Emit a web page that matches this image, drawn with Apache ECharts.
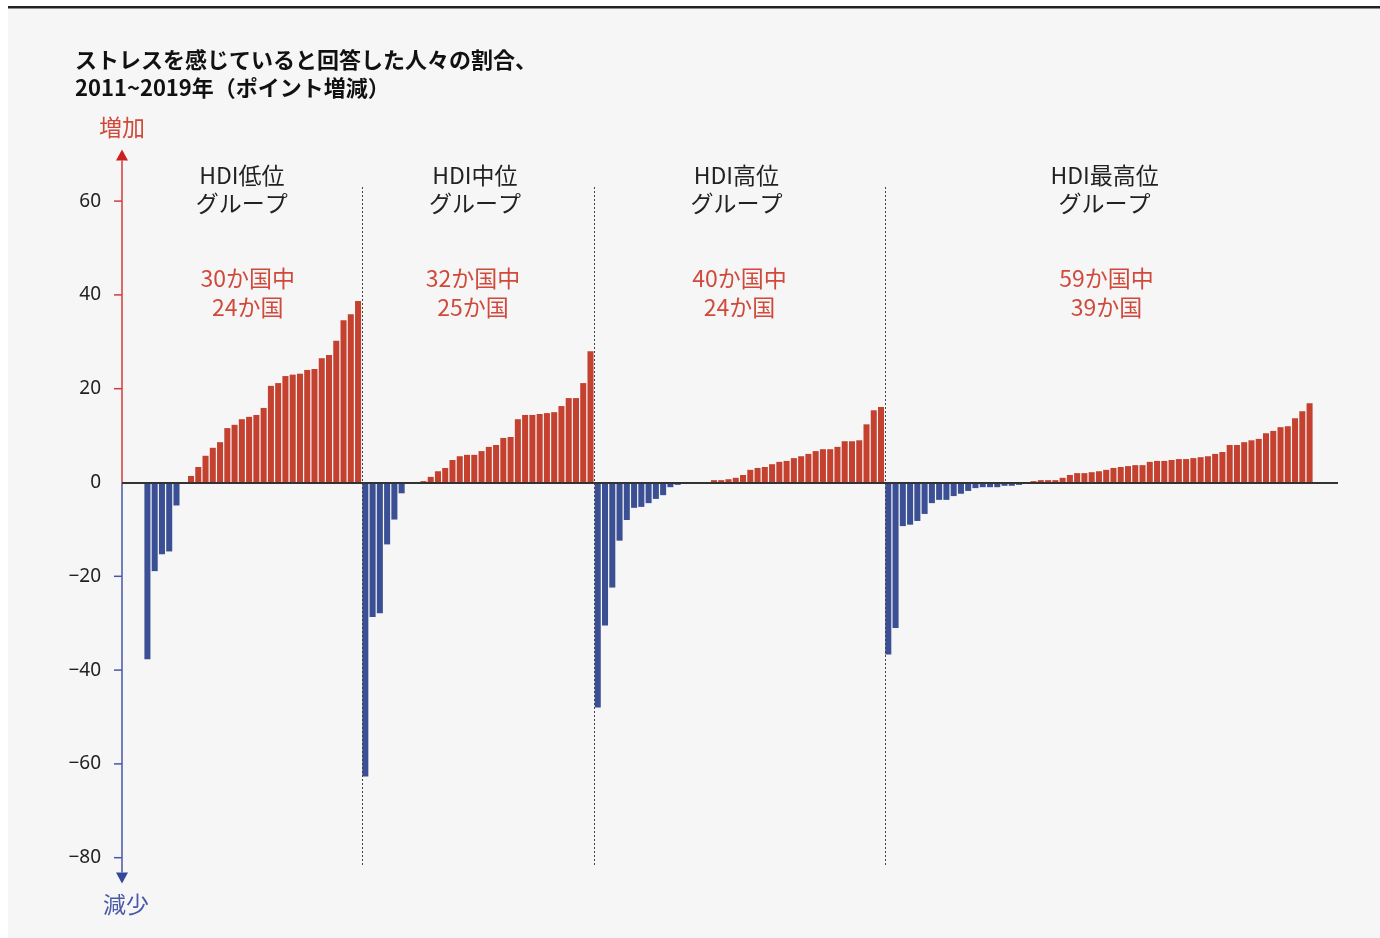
<!DOCTYPE html>
<html>
<head>
<meta charset="utf-8">
<script src="https://cdn.jsdelivr.net/npm/echarts@6/dist/echarts.min.js"></script>
<style>
html,body{margin:0;padding:0;background:#ffffff;}
#chart{width:1380px;height:938px;}
</style>
</head>
<body>
<div id="chart"></div>
<script>
// ---- data ----
const titleLines = ['ストレスを感じていると回答した人々の割合、', '2011~2019年（ポイント増減）'];
const upLabel = '増加';
const downLabel = '減少';
const groupNames = ['HDI低位', 'HDI中位', 'HDI高位', 'HDI最高位'];
const groupSub = 'グループ';
const groupTotals = [30, 32, 40, 59];
const groupIncreased = [24, 25, 24, 39];
const yTicks = [-80, -60, -40, -20, 0, 20, 40, 60];

const lowHDI = [-37.7, -18.9, -15.3, -14.7, -4.9, -0.1, 1.4, 3.3, 5.7, 7.4, 8.6, 11.6, 12.3, 13.5, 14.0, 14.4, 15.9, 20.6, 21.2, 22.7, 23.0, 23.2, 24.0, 24.2, 26.5, 27.2, 30.2, 34.6, 35.9, 38.7];
const mediumHDI = [-62.7, -28.7, -27.9, -13.2, -7.9, -2.3, -0.1, 0.1, 0.3, 1.2, 2.4, 3.1, 4.8, 5.6, 5.9, 5.9, 6.7, 7.6, 8.0, 9.5, 9.7, 13.5, 14.4, 14.4, 14.6, 14.8, 15.0, 16.3, 18.0, 18.0, 21.2, 28.0];
const highHDI = [-48.0, -30.5, -22.4, -12.4, -8.0, -5.4, -5.2, -4.4, -3.5, -2.7, -1.0, -0.5, -0.1, -0.1, -0.1, -0.1, 0.5, 0.5, 0.7, 1.0, 1.6, 2.7, 3.1, 3.3, 3.9, 4.4, 4.6, 5.2, 5.6, 6.1, 6.7, 7.1, 7.1, 7.6, 8.8, 8.8, 9.0, 12.4, 15.4, 16.1];
const veryHighHDI = [-36.7, -31.0, -9.3, -9.0, -8.2, -6.7, -4.4, -3.7, -3.7, -2.9, -2.4, -1.8, -1.2, -1.0, -1.0, -1.0, -0.7, -0.7, -0.5, -0.2, 0.3, 0.5, 0.5, 0.5, 1.0, 1.6, 2.0, 2.0, 2.2, 2.4, 2.7, 3.1, 3.3, 3.5, 3.7, 3.7, 4.4, 4.6, 4.6, 4.8, 5.0, 5.0, 5.2, 5.4, 5.6, 6.1, 6.5, 8.0, 8.0, 8.6, 9.0, 9.3, 10.5, 11.0, 11.8, 12.0, 13.7, 15.2, 16.9];

const groups = [lowHDI, mediumHDI, highHDI, veryHighHDI];
const padStart = 3, padEnd = 3;

// ---- styles ----
const RED = '#c4412f';
const BLUE = '#3a4f94';
const AX_RED = '#d33a3a';
const AX_BLUE = '#4657a6';
const TXT_RED = '#d04a3c';
const FONT = '"Noto Sans CJK JP", "Noto Sans", sans-serif';
const NUMFONT = '"Noto Sans", "Noto Sans CJK JP", sans-serif';

// build category data
const cats = [];
const values = [];
for (let i = 0; i < padStart; i++) { cats.push('s' + i); values.push(null); }
const groupStartIdx = [];
groups.forEach((g, gi) => {
  groupStartIdx.push(cats.length);
  g.forEach((v, j) => {
    cats.push('g' + gi + '_' + j);
    values.push({ value: v, itemStyle: { color: v >= 0 ? RED : BLUE } });
  });
});
const lastBarIdx = cats.length - 1;
for (let i = 0; i < padEnd; i++) { cats.push('e' + i); values.push(null); }

const chart = echarts.init(document.getElementById('chart'), null, { renderer: 'canvas' });
const option = {
  animation: false,
  backgroundColor: '#ffffff',
  textStyle: { fontFamily: FONT },
  grid: { left: 122, right: 45, top: 201.1, bottom: 80.3 },
  xAxis: {
    type: 'category',
    data: cats,
    axisLine: { show: false },
    axisTick: { show: false },
    axisLabel: { show: false },
    splitLine: { show: false }
  },
  yAxis: {
    type: 'value',
    min: -80, max: 60, interval: 20,
    axisLine: { show: false },
    axisTick: { show: false },
    splitLine: { show: false },
    axisLabel: {
      margin: 21, fontSize: 19, color: '#222222', fontFamily: NUMFONT,
      formatter: v => String(v).replace('-', '\u2212')
    }
  },
  series: [{
    type: 'bar',
    data: values,
    barCategoryGap: '17%',
    z: 2
  }]
};
chart.setOption(option);

// ---- decorations computed via the chart's own scales ----
const px = i => chart.convertToPixel({ xAxisIndex: 0 }, i);
const py = v => chart.convertToPixel({ yAxisIndex: 0 }, v);
const boundary = i => (px(i) + px(i + 1)) / 2; // between category i and i+1

const gx = 122;
const y0 = py(0);
const yTopTip = py(71);
const yBotTip = py(-85.5);
const aw = 6, ah = 11;

const g = [];
// panel
g.push({ type: 'rect', silent: true, z: -10, shape: { x: 8, y: 8, width: 1372, height: 930 }, style: { fill: '#f6f6f6' } });
g.push({ type: 'rect', silent: true, z: -9, shape: { x: 8, y: 6, width: 1372, height: 2.6 }, style: { fill: '#222222' } });

// title
g.push({ type: 'text', x: 75, y: 60, style: { text: titleLines[0], font: 'bold 22px ' + FONT, fill: '#111111', textVerticalAlign: 'middle' } });
g.push({ type: 'text', x: 75, y: 88, style: { text: titleLines[1], font: 'bold 22px ' + FONT, fill: '#111111', textVerticalAlign: 'middle' } });

// zero baseline
g.push({ type: 'line', z: 10, shape: { x1: gx, y1: Math.round(y0), x2: 1338, y2: Math.round(y0) }, style: { stroke: '#333333', lineWidth: 2 } });

// y axis lines with arrows
g.push({ type: 'line', z: 5, shape: { x1: gx, y1: y0, x2: gx, y2: yTopTip + ah }, style: { stroke: AX_RED, lineWidth: 1.5 } });
g.push({ type: 'polygon', z: 5, shape: { points: [[gx, yTopTip], [gx - aw, yTopTip + ah], [gx + aw, yTopTip + ah]] }, style: { fill: '#cc2020' } });
g.push({ type: 'line', z: 5, shape: { x1: gx, y1: y0, x2: gx, y2: yBotTip - ah }, style: { stroke: AX_BLUE, lineWidth: 1.5 } });
g.push({ type: 'polygon', z: 5, shape: { points: [[gx, yBotTip], [gx - aw, yBotTip - ah], [gx + aw, yBotTip - ah]] }, style: { fill: '#34479a' } });
g.push({ type: 'text', x: gx, y: yTopTip - 22, style: { text: upLabel, font: '23px ' + FONT, fill: TXT_RED, textAlign: 'center', textVerticalAlign: 'middle' } });
g.push({ type: 'text', x: gx + 4, y: yBotTip + 21, style: { text: downLabel, font: '23px ' + FONT, fill: '#4a5aa8', textAlign: 'center', textVerticalAlign: 'middle' } });

// ticks
yTicks.forEach(v => {
  if (v === 0) return;
  const y = py(v);
  g.push({ type: 'line', z: 5, shape: { x1: gx - 8, y1: y, x2: gx, y2: y }, style: { stroke: v > 0 ? AX_RED : AX_BLUE, lineWidth: 1.5 } });
});

// dividers and group labels
const bounds = [];
bounds.push(gx);
for (let gi = 1; gi < groups.length; gi++) bounds.push(boundary(groupStartIdx[gi] - 1));
bounds.push(boundary(lastBarIdx + 1));
for (let gi = 1; gi < groups.length; gi++) {
  const x = Math.round(bounds[gi]) + 0.5;
  g.push({ type: 'line', z: 6, shape: { x1: x, y1: 187, x2: x, y2: 866 }, style: { stroke: '#444444', lineWidth: 1, lineDash: [2, 2] } });
}
const headShift = [0, -3, -3, 2];
const redShift = [6, -5, 0, 4];
groups.forEach((grp, gi) => {
  const cx = (bounds[gi] + bounds[gi + 1]) / 2;
  const hx = cx + headShift[gi];
  const rx = cx + redShift[gi];
  g.push({ type: 'text', x: hx, y: 175, style: { text: groupNames[gi], font: '23px ' + FONT, fill: '#222222', textAlign: 'center', textVerticalAlign: 'middle' } });
  g.push({ type: 'text', x: hx, y: 203, style: { text: groupSub, font: '23px ' + FONT, fill: '#222222', textAlign: 'center', textVerticalAlign: 'middle' } });
  g.push({ type: 'text', x: rx, y: 278, style: { text: groupTotals[gi] + 'か国中', font: '23px ' + FONT, fill: TXT_RED, textAlign: 'center', textVerticalAlign: 'middle' } });
  g.push({ type: 'text', x: rx, y: 307, style: { text: groupIncreased[gi] + 'か国', font: '23px ' + FONT, fill: TXT_RED, textAlign: 'center', textVerticalAlign: 'middle' } });
});

chart.setOption({ graphic: g });
</script>
</body>
</html>
